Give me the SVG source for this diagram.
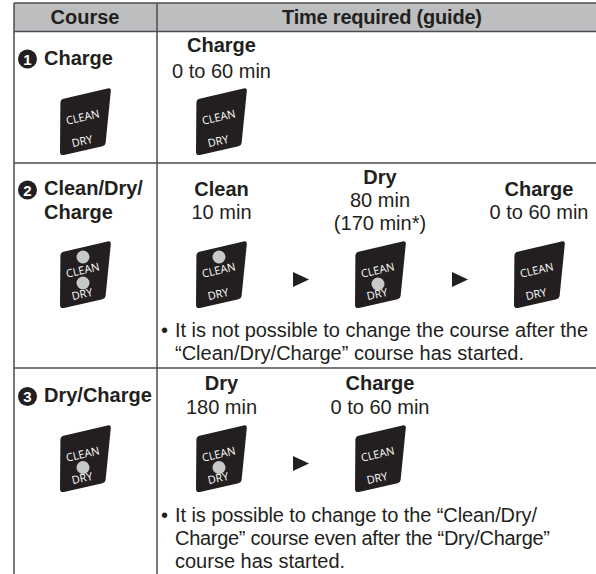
<svg xmlns="http://www.w3.org/2000/svg" width="596" height="574" viewBox="0 0 596 574">
<style>
text{font-family:"Liberation Sans",Arial,sans-serif;font-size:20px;fill:#231f20}
.b{font-weight:700}
.m{text-anchor:middle}
.n{font-size:15px;font-weight:700;fill:#fff;text-anchor:middle}
.i{font-family:"Open Sans",sans-serif;font-size:11px;fill:#fff;text-anchor:middle}
.l{stroke:#4d4d4f;stroke-width:1.5;fill:none}
.d{fill:#c7c8ca}
.a{fill:#231f20}
</style>
<defs>
<g id="icon">
<path d="M0.4 15Q0.4 11.500 3.500 10.700L47.500 0.400Q51.200-0.400 50.800 3.200L45.600 55Q45.300 57.700 42.500 58.300L4 67Q0 67.700 0 64Z" fill="#231f20"/>
<text class="i" transform="translate(23.500 33) rotate(-13)">CLEAN</text>
<text class="i" transform="translate(23 57) rotate(-13)">DRY</text>
</g>
</defs>
<rect x="14" y="3" width="582" height="28.500" fill="#bcbec0"/>
<g id="grid">
<path class="l" d="M14 3H596M14 31.500H596M14 163H596M14 368H596M14 3V574M157 3V574"/>
</g>
<g id="header">
<text class="b m" x="85" y="23.500">Course</text>
<text class="b m" x="382" y="23.500" textLength="200">Time required (guide)</text>
</g>
<g id="row1">
<circle cx="27.500" cy="59" r="9.500" fill="#231f20"/><text class="n" x="27.500" y="64.500">1</text>
<text class="b" x="44" y="64.500">Charge</text>
<use href="#icon" x="60" y="88"/>
<text class="b m" x="221.500" y="52">Charge</text>
<text class="m" x="221.500" y="77.500">0 to 60 min</text>
<use href="#icon" x="196" y="88"/>
</g>
<g id="row2">
<circle cx="27.500" cy="190" r="9.500" fill="#231f20"/><text class="n" x="27.500" y="195.500">2</text>
<text class="b" x="44" y="195">Clean/Dry/</text>
<text class="b" x="44" y="218.500">Charge</text>
<use href="#icon" x="60" y="241"/>
<circle class="d" cx="83" cy="257" r="6.500"/><circle class="d" cx="83" cy="283" r="6.500"/>
<text class="b m" x="221.500" y="196">Clean</text>
<text class="m" x="221.500" y="218.500">10 min</text>
<use href="#icon" x="196" y="241"/>
<circle class="d" cx="219" cy="257" r="6.500"/>
<path class="a" d="M293 272L309 279.500L293 287Z"/>
<text class="b m" x="380" y="183.500">Dry</text>
<text class="m" x="380" y="207">80 min</text>
<text class="m" x="380" y="230">(170 min*)</text>
<use href="#icon" x="355" y="241"/>
<circle class="d" cx="378" cy="284" r="6.500"/>
<path class="a" d="M452 272L468 279.500L452 287Z"/>
<text class="b m" x="539" y="196">Charge</text>
<text class="m" x="539" y="218.500">0 to 60 min</text>
<use href="#icon" x="514" y="241"/>
<text x="161" y="337">•</text><text x="175" y="337" textLength="413">It is not possible to change the course after the</text>
<text x="175" y="360">“Clean/Dry/Charge” course has started.</text>
</g>
<g id="row3">
<circle cx="27.500" cy="396.500" r="9.500" fill="#231f20"/><text class="n" x="27.500" y="402">3</text>
<text class="b" x="44" y="402">Dry/Charge</text>
<use href="#icon" x="60" y="425"/>
<circle class="d" cx="83" cy="467.500" r="6.500"/>
<text class="b m" x="221.500" y="390">Dry</text>
<text class="m" x="221.500" y="414">180 min</text>
<use href="#icon" x="196" y="425"/>
<circle class="d" cx="219" cy="467.500" r="6.500"/>
<path class="a" d="M293 456L309 463.500L293 471Z"/>
<text class="b m" x="380" y="390">Charge</text>
<text class="m" x="380" y="414">0 to 60 min</text>
<use href="#icon" x="355" y="425"/>
<text x="161" y="521.500">•</text><text x="175" y="521.500" textLength="362">It is possible to change to the “Clean/Dry/</text>
<text x="175" y="545" textLength="375">Charge” course even after the “Dry/Charge”</text>
<text x="175" y="568">course has started.</text>
</g>
</svg>
